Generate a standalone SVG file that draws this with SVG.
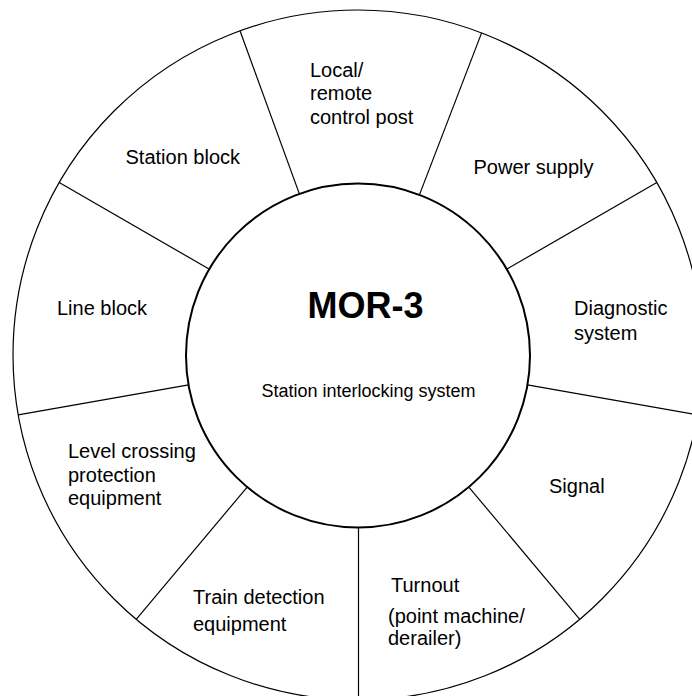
<svg xmlns="http://www.w3.org/2000/svg" width="692" height="696" viewBox="0 0 692 696">
<style>
.ring{fill:#fff;stroke:#000;stroke-width:1.2}
.core{fill:#fff;stroke:#000;stroke-width:2}
.div{stroke:#000;stroke-width:1.2;fill:none}
text{font-family:"Liberation Sans",Arial,sans-serif;font-size:20px;fill:#000}
.title{font-size:36px;font-weight:bold}
.sub{font-size:18px}
</style>
<rect width="692" height="696" fill="#fff"/>
<g id="outer-ring">
<circle class="ring" cx="358" cy="355" r="345"/>
</g>
<g id="connectors">
<line class="div" x1="299.2" y1="193.4" x2="240" y2="30.8"/>
<line class="div" x1="419.6" y1="194.4" x2="481.6" y2="32.9"/>
<line class="div" x1="507" y1="269" x2="656.8" y2="182.5"/>
<line class="div" x1="527.4" y1="384.9" x2="697.8" y2="414.9"/>
<line class="div" x1="468.6" y1="486.8" x2="579.8" y2="619.3"/>
<line class="div" x1="358.5" y1="527" x2="358.5" y2="700"/>
<line class="div" x1="247.4" y1="486.8" x2="136.2" y2="619.3"/>
<line class="div" x1="188.6" y1="384.9" x2="18.2" y2="414.9"/>
<line class="div" x1="209" y1="269" x2="59.2" y2="182.5"/>
</g>
<g id="core">
<circle class="core" cx="358" cy="355.5" r="172"/>
<text class="title" x="365.5" y="318" text-anchor="middle">MOR-3</text>
<text class="sub" x="368.5" y="396.5" text-anchor="middle">Station interlocking system</text>
</g>
<g id="local-remote-control-post">
<text x="310" y="76.5">Local/</text>
<text x="310" y="100">remote</text>
<text x="310" y="124">control post</text>
</g>
<g id="power-supply">
<text x="473.5" y="173.5">Power supply</text>
</g>
<g id="diagnostic-system">
<text x="574" y="315">Diagnostic</text>
<text x="574" y="340">system</text>
</g>
<g id="signal">
<text x="549" y="493">Signal</text>
</g>
<g id="turnout">
<text x="391" y="591.5">Turnout</text>
<text x="388" y="622.5">(point machine/</text>
<text x="388" y="645">derailer)</text>
</g>
<g id="train-detection-equipment">
<text x="193" y="604">Train detection</text>
<text x="193" y="631">equipment</text>
</g>
<g id="level-crossing-protection-equipment">
<text x="68" y="458">Level crossing</text>
<text x="68" y="481.5">protection</text>
<text x="68" y="505">equipment</text>
</g>
<g id="line-block">
<text x="57" y="315">Line block</text>
</g>
<g id="station-block">
<text x="125.5" y="163.5">Station block</text>
</g>
</svg>
